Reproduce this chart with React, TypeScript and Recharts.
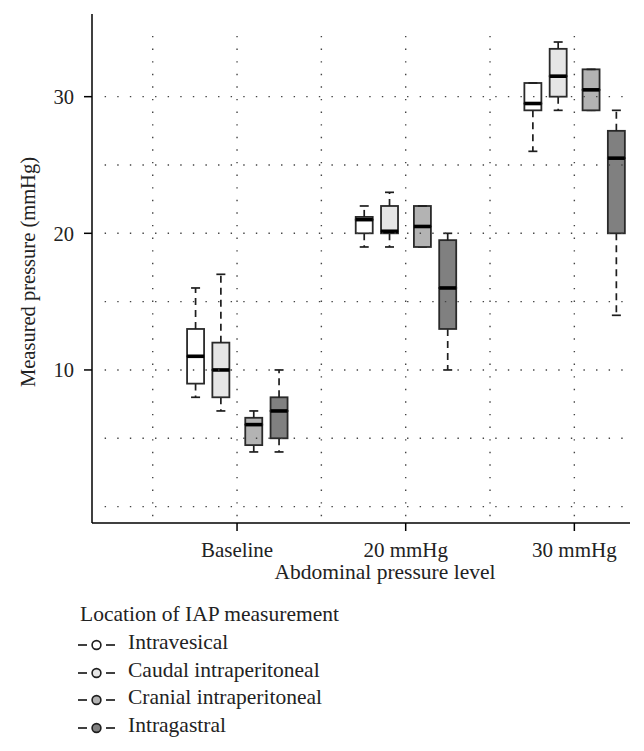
import React from 'react';
import { ComposedChart, Bar, XAxis, YAxis, ReferenceLine } from 'recharts';

const levels = ['Baseline', '20 mmHg', '30 mmHg'];
const levelPos = [1, 3, 5];
const locations = ['Intravesical', 'Caudal intraperitoneal', 'Cranial intraperitoneal', 'Intragastral'];
const locationFill = ['#ffffff', '#e6e6e6', '#b3b3b3', '#808080'];
const locationOffset = [-0.49, -0.19, 0.2, 0.5];

// [min, q1, median, q3, max] for Baseline, 20 mmHg, 30 mmHg
const intravesical = [[8, 9, 11, 13, 16], [19, 20, 21, 21.2, 22], [26, 29, 29.5, 31, 31]];
const caudal = [[7, 8, 10, 12, 17], [19, 20, 20.15, 22, 23], [29, 30, 31.5, 33.5, 34]];
const cranial = [[4, 4.5, 6, 6.5, 7], [19, 19, 20.5, 22, 22], [29, 29, 30.5, 32, 32]];
const intragastral = [[4, 5, 7, 8, 10], [10, 13, 16, 19.5, 20], [14, 20, 25.5, 27.5, 29]];

const yTicks = [10, 20, 30];
const gridY = [0, 5, 10, 15, 20, 25, 30];
const gridX = [0, 1, 2, 3, 4, 5];

const stats = [intravesical, caudal, cranial, intragastral];

const rows = levels.flatMap((_, li) =>
  stats.map((s, k) => {
    const [min, q1, med, q3, max] = s[li];
    return {
      x: levelPos[li] + locationOffset[k],
      fill: locationFill[k],
      base: min,
      wLow: q1 - min,
      bLow: med - q1,
      bHigh: q3 - med,
      wHigh: max - q3,
    };
  })
);

const INK = '#1e1e1e';
const FONT = '"Liberation Serif", "Times New Roman", serif';

const LowWhisker = (p: any) => {
  const cx = p.x + p.width / 2;
  const bottom = p.y + p.height;
  return (
    <g>
      <line x1={cx} x2={cx} y1={p.y} y2={bottom} stroke={INK} strokeWidth={1.7} strokeDasharray="7 5" />
      <line x1={cx - 4.5} x2={cx + 4.5} y1={bottom} y2={bottom} stroke={INK} strokeWidth={1.7} />
    </g>
  );
};

const HighWhisker = (p: any) => {
  const cx = p.x + p.width / 2;
  const bottom = p.y + p.height;
  return (
    <g>
      <line x1={cx} x2={cx} y1={bottom} y2={p.y} stroke={INK} strokeWidth={1.7} strokeDasharray="7 5" />
      <line x1={cx - 4.5} x2={cx + 4.5} y1={p.y} y2={p.y} stroke={INK} strokeWidth={1.7} />
    </g>
  );
};

const BoxLow = (p: any) => (
  <rect x={p.x} y={p.y} width={p.width} height={p.height} fill={p.payload.fill} stroke="#2a2a2a" strokeWidth={1.8} />
);

const BoxHigh = (p: any) => (
  <g>
    <rect x={p.x} y={p.y} width={p.width} height={p.height} fill={p.payload.fill} stroke="#2a2a2a" strokeWidth={1.8} />
    <line x1={p.x} x2={p.x + p.width} y1={p.y + p.height} y2={p.y + p.height} stroke="#000" strokeWidth={3.6} />
  </g>
);

const legendTop = [632, 660, 687, 715];

export default function App() {
  return (
    <div style={{ position: 'absolute', left: 0, top: 0, width: 644, height: 751, background: '#fff', fontFamily: FONT, color: '#222' }}>
      <ComposedChart width={644} height={563} data={rows} margin={{ top: 14, right: 14, bottom: 0, left: 0 }}>
        {gridY.map((v) => (
          <ReferenceLine key={`gy${v}`} segment={[{ x: -0.57, y: v }, { x: 5.66, y: v }]} stroke="#444" strokeWidth={1.4} strokeDasharray="1.4 11.2" />
        ))}
        {gridX.map((v) => (
          <ReferenceLine key={`gx${v}`} segment={[{ x: v, y: -0.7 }, { x: v, y: 34.7 }]} stroke="#444" strokeWidth={1.4} strokeDasharray="1.4 11.2" />
        ))}
        <XAxis
          dataKey="x"
          type="number"
          domain={[-0.72, 5.66]}
          allowDataOverflow
          ticks={levelPos}
          tickFormatter={(v: number) => levels[levelPos.indexOf(v)] ?? ''}
          height={40}
          tickSize={8}
          tickMargin={11}
          stroke="#000"
          strokeWidth={1.5}
          tick={{ fill: '#222', fontSize: 21, fontFamily: FONT }}
        />
        <YAxis
          type="number"
          domain={[-1.2, 36.05]}
          allowDataOverflow
          ticks={yTicks}
          width={92}
          tickSize={8}
          tickMargin={10}
          stroke="#000"
          strokeWidth={1.5}
          tick={{ fill: '#222', fontSize: 20.5, fontFamily: FONT }}
        />
        <Bar dataKey="base" stackId="box" barSize={17} fill="transparent" shape={() => <g />} isAnimationActive={false} />
        <Bar dataKey="wLow" stackId="box" barSize={17} shape={LowWhisker} isAnimationActive={false} />
        <Bar dataKey="bLow" stackId="box" barSize={17} shape={BoxLow} isAnimationActive={false} />
        <Bar dataKey="bHigh" stackId="box" barSize={17} shape={BoxHigh} isAnimationActive={false} />
        <Bar dataKey="wHigh" stackId="box" barSize={17} shape={HighWhisker} isAnimationActive={false} />
      </ComposedChart>

      <div style={{ position: 'absolute', left: 28, top: 272, transform: 'translate(-50%, -50%) rotate(-90deg)', whiteSpace: 'nowrap', fontSize: 20.5, lineHeight: 1 }}>
        Measured pressure (mmHg)
      </div>
      <div style={{ position: 'absolute', left: 385, top: 562, transform: 'translateX(-50%)', whiteSpace: 'nowrap', fontSize: 21.5, lineHeight: 1 }}>
        Abdominal pressure level
      </div>
      <div style={{ position: 'absolute', left: 80, top: 604, whiteSpace: 'nowrap', fontSize: 21.5, lineHeight: 1 }}>
        Location of IAP measurement
      </div>
      {locations.map((name, k) => (
        <div key={name} style={{ position: 'absolute', left: 77, top: legendTop[k], height: 22, whiteSpace: 'nowrap', fontSize: 21.5, lineHeight: 1 }}>
          <svg width={40} height={22} style={{ position: 'absolute', left: 0, top: 0 }}>
            <line x1={1} x2={10} y1={13} y2={13} stroke={INK} strokeWidth={1.7} />
            <circle cx={19.5} cy={13} r={4.4} fill={locationFill[k]} stroke={INK} strokeWidth={1.6} />
            <line x1={29} x2={38} y1={13} y2={13} stroke={INK} strokeWidth={1.7} />
          </svg>
          <span style={{ position: 'absolute', left: 51, top: 0 }}>{name}</span>
        </div>
      ))}
    </div>
  );
}
